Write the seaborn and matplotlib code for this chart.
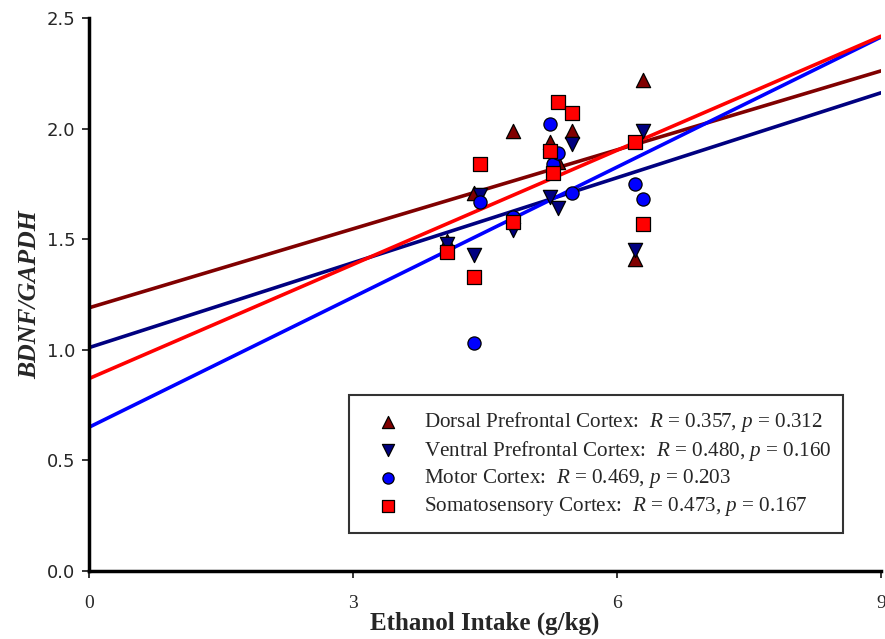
import pandas as pd
import matplotlib
matplotlib.use("Agg")
import matplotlib.pyplot as plt
import seaborn as sns

# values
dorsal_x = [4.07, 4.37, 4.82, 5.24, 5.33, 5.49, 6.20, 6.30]
dorsal_y = [1.49, 1.71, 1.99, 1.94, 1.85, 1.99, 1.41, 2.22]
ventral_x = [4.07, 4.37, 4.44, 4.82, 5.24, 5.33, 5.49, 6.20, 6.30]
ventral_y = [1.48, 1.43, 1.70, 1.54, 1.69, 1.64, 1.93, 1.45, 1.99]
motor_x = [4.37, 4.44, 4.82, 5.24, 5.27, 5.33, 5.49, 6.20, 6.30]
motor_y = [1.03, 1.67, 1.60, 2.02, 1.84, 1.89, 1.71, 1.75, 1.68]
somato_x = [4.07, 4.37, 4.44, 4.82, 5.24, 5.27, 5.33, 5.49, 6.20, 6.30]
somato_y = [1.44, 1.33, 1.84, 1.58, 1.90, 1.80, 2.12, 2.07, 1.94, 1.57]

regions = ["Dorsal Prefrontal Cortex", "Ventral Prefrontal Cortex", "Motor Cortex", "Somatosensory Cortex"]
intercepts = [1.19, 1.01, 0.65, 0.87]
slopes = [0.119, 0.128, 0.196, 0.172]
r_vals = ["0.357", "0.480", "0.469", "0.473"]
p_vals = ["0.312", "0.160", "0.203", "0.167"]

colors = ["#800000", "#000080", "#0000FF", "#FF0000"]
markers = ["^", "v", "o", "s"]
sizes = [105, 105, 90, 90]

sns.set_style("white")
plt.rcParams["font.family"] = ["Liberation Serif", "DejaVu Serif"]
plt.rcParams["mathtext.fontset"] = "custom"
plt.rcParams["mathtext.rm"] = "Liberation Serif"
plt.rcParams["mathtext.it"] = "Liberation Serif:italic"

fig = plt.figure(figsize=(8.85, 6.39), dpi=100)
ax = fig.add_axes([0.1006, 0.1064, 0.8949, 0.8654])

xs = [dorsal_x, ventral_x, motor_x, somato_x]
ys = [dorsal_y, ventral_y, motor_y, somato_y]
xlim = [0, 9]

# regression lines
for b0, b1, c in zip(intercepts, slopes, colors):
    line = pd.DataFrame({"x": xlim, "y": [b0 + b1 * v for v in xlim]})
    sns.lineplot(data=line, x="x", y="y", color=c, linewidth=2.6, ax=ax, zorder=2)

# points
for i, name in enumerate(regions):
    df = pd.DataFrame({"x": xs[i], "y": ys[i]})
    lab = name + ":  $R$ = " + r_vals[i] + ", $p$ = " + p_vals[i]
    sns.scatterplot(data=df, x="x", y="y", marker=markers[i], color=colors[i],
                    s=sizes[i], edgecolor="black", linewidth=0.9, ax=ax,
                    label=lab, zorder=3)

ax.set_xlim(0, 9)
ax.set_ylim(0, 2.5)
ax.set_xticks([0, 3, 6, 9])
ax.set_yticks([0.0, 0.5, 1.0, 1.5, 2.0, 2.5])
ax.set_yticklabels(["0.0", "0.5", "1.0", "1.5", "2.0", "2.5"])
ax.tick_params(axis="both", length=5, width=1.3, direction="out",
               bottom=True, left=True)
ax.tick_params(axis="x", pad=12)
ax.tick_params(axis="y", pad=5)
for t in ax.get_xticklabels():
    t.set_fontfamily("Liberation Serif")
    t.set_fontsize(14)
for t in ax.get_yticklabels():
    t.set_fontfamily("DejaVu Sans")
    t.set_fontsize(13)
for s in ["top", "right"]:
    ax.spines[s].set_visible(False)
for s in ["left", "bottom"]:
    ax.spines[s].set_linewidth(2.5)
    ax.spines[s].set_color("black")

ax.set_xlabel("Ethanol Intake (g/kg)", fontsize=18, fontweight="bold", labelpad=0)
ax.set_ylabel("BDNF/GAPDH", fontsize=18.5, fontweight="bold", style="italic", labelpad=4)

leg = ax.legend(loc="lower left", bbox_to_anchor=(0.328, 0.069, 0.624, 0.244),
                mode="expand", fontsize=15.2, frameon=True, fancybox=False,
                borderpad=0.7, labelspacing=0.22, handletextpad=0.55,
                handlelength=2.3, markerscale=0.85, borderaxespad=0)
leg.get_frame().set_edgecolor("black")
leg.get_frame().set_linewidth(1.5)

fig.savefig("out.png", dpi=100)
